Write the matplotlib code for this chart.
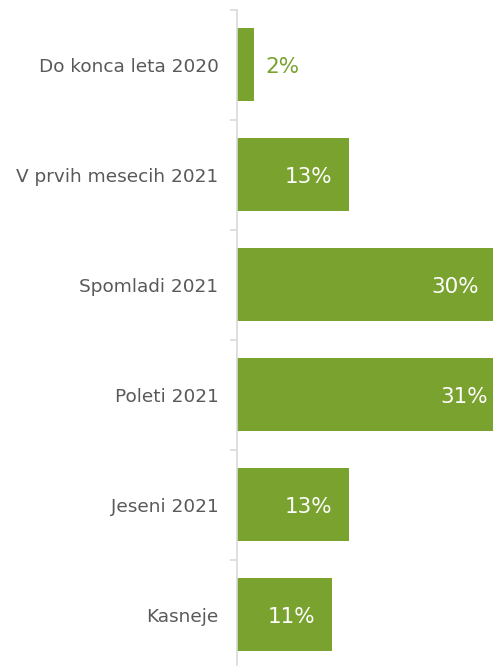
import matplotlib.pyplot as plt
import numpy as np

categories = ['Do konca leta 2020', 'V prvih mesecih 2021', 'Spomladi 2021',
              'Poleti 2021', 'Jeseni 2021', 'Kasneje']
values = [2, 13, 30, 31, 13, 11]

green = '#7aa22f'
grey_text = '#595959'

plt.rcParams['font.family'] = ['DejaVu Sans']

fig = plt.figure(figsize=(4.93, 6.66), dpi=100)
# axis runs past the right and bottom edges, so the widest bars get cut off
ax = fig.add_axes([236.5 / 493, -3.5 / 666, 256.5 / 493, 660 / 666])

y = np.arange(len(categories))
ax.barh(y, values, height=0.66, color=green)
ax.set_xlim(0, 256.5 / 8.65)
ax.set_ylim(len(categories) - 0.5, -0.5)

for s in ['top', 'right', 'bottom']:
    ax.spines[s].set_visible(False)
ax.spines['left'].set_color('#d9d9d9')
ax.spines['left'].set_linewidth(1.2)

ax.set_xticks([])
ax.set_yticks(np.arange(-0.5, len(categories) + 0.5, 1))
ax.set_yticklabels([])
ax.tick_params(axis='y', length=5, width=1.2, color='#d9d9d9')

for yi, name in zip(y, categories):
    ax.annotate(name, (0, yi), xytext=(-13, -1.5), textcoords='offset points',
                ha='right', va='center', fontsize=13.3, color=grey_text,
                annotation_clip=False)

for yi, v in zip(y, values):
    if v < 5:
        ax.annotate(f'{v}%', (v, yi), xytext=(8.5, -2), textcoords='offset points',
                    ha='left', va='center', fontsize=15.5, color=green)
    else:
        ax.annotate(f'{v}%', (v, yi), xytext=(-12, -2), textcoords='offset points',
                    ha='right', va='center', fontsize=15.5, color='white',
                    annotation_clip=False)

fig.savefig('out.png', dpi=100)
